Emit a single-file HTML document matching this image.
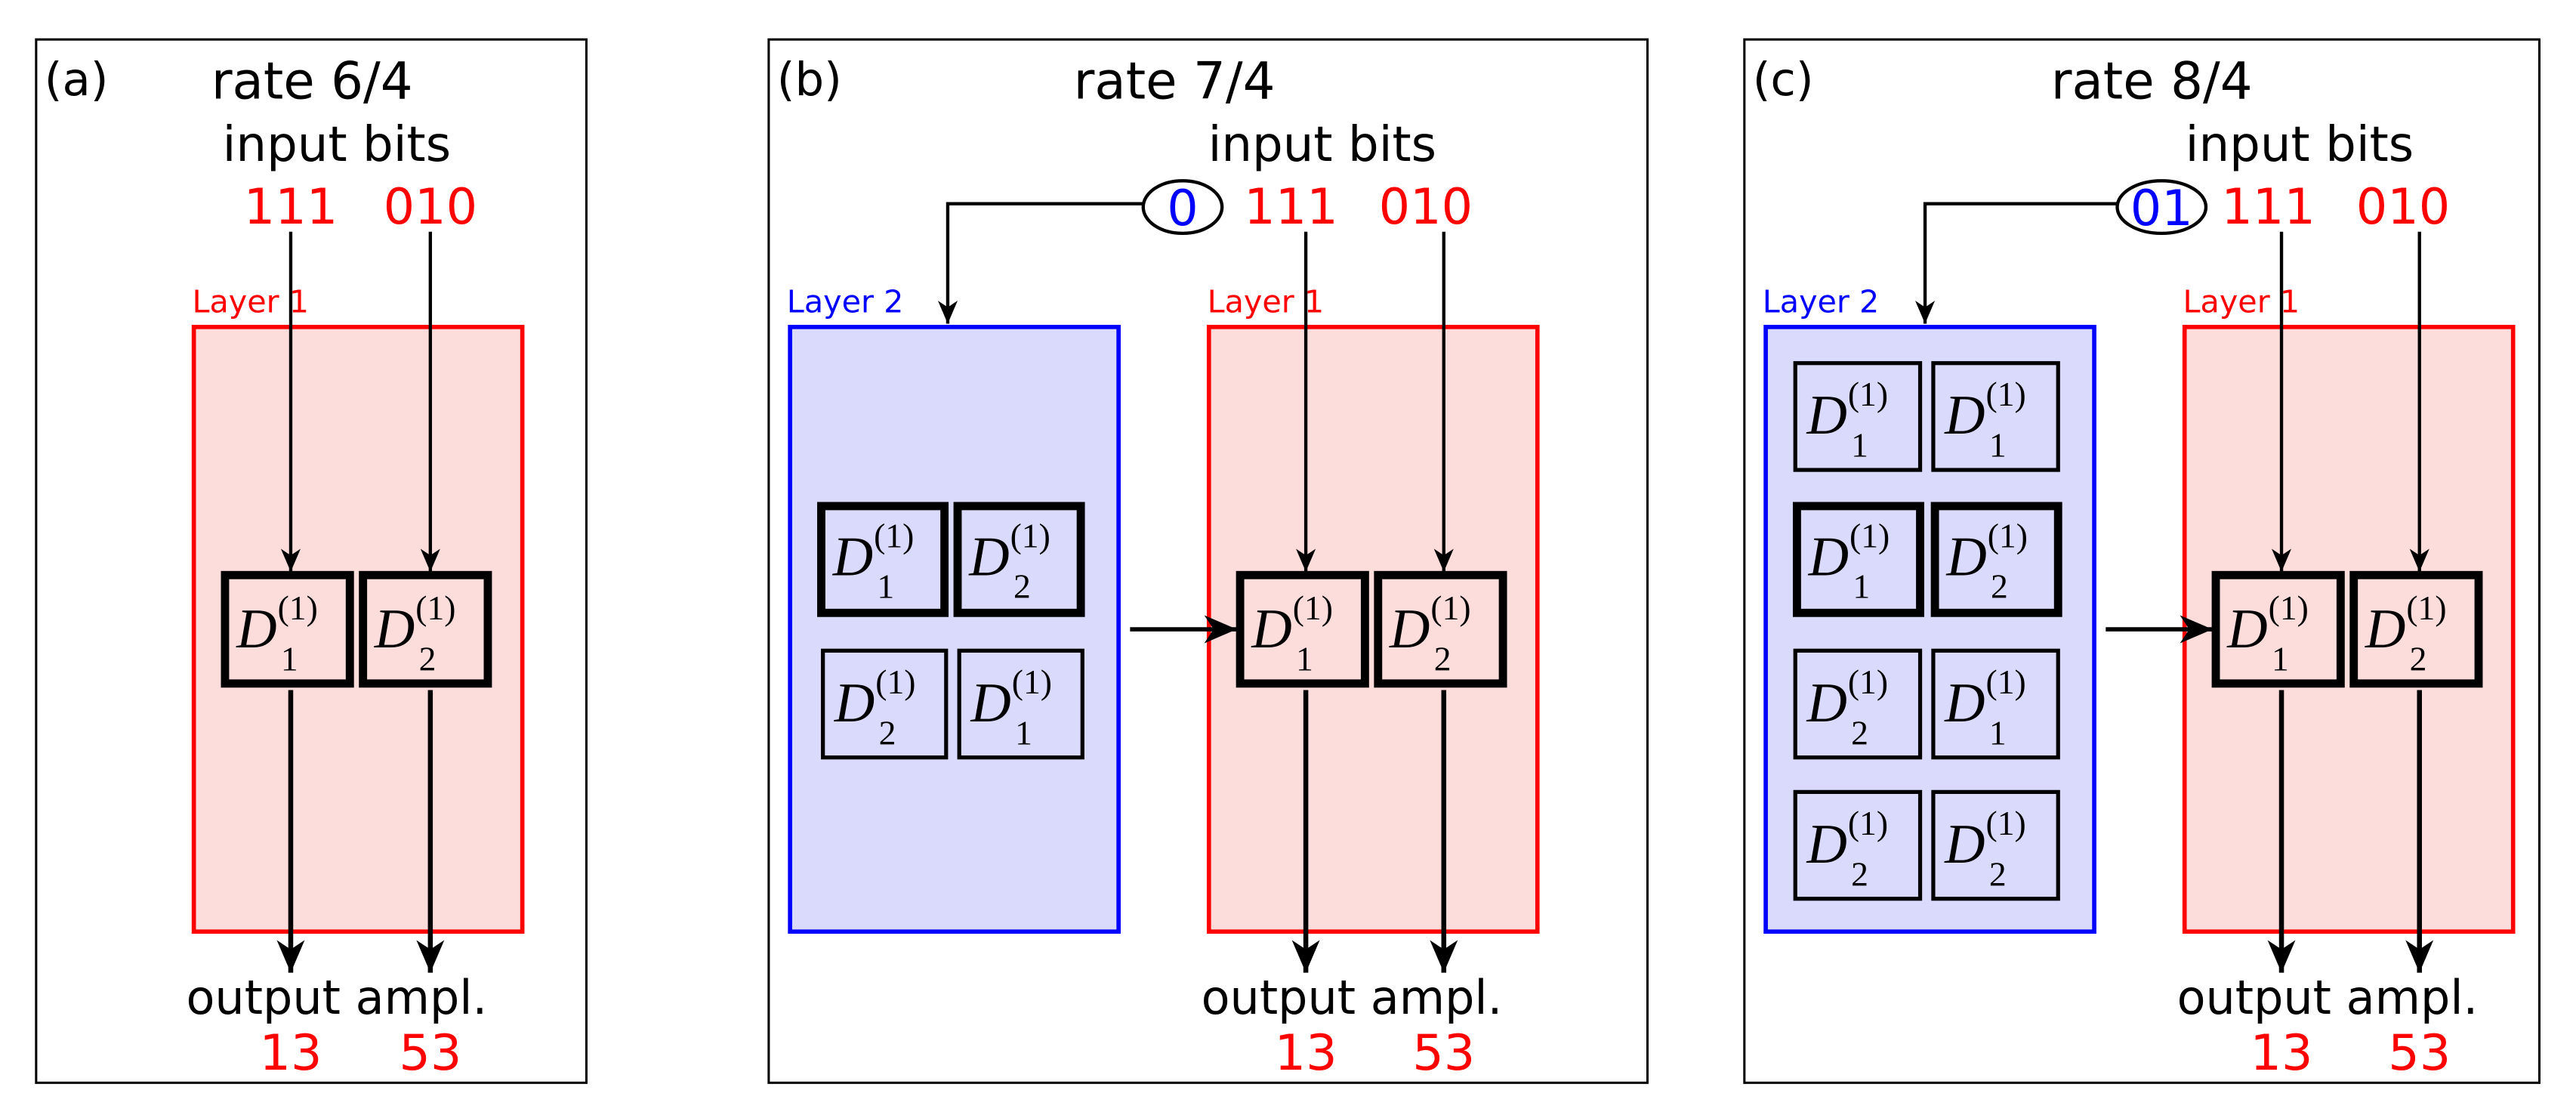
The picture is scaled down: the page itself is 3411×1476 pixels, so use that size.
<!DOCTYPE html>
<html><head><meta charset="utf-8"><style>
html,body{margin:0;padding:0;background:#fff}
svg{display:block}
text{font-family:"DejaVu Sans","Liberation Sans",sans-serif}
.m{font-family:"Liberation Serif","DejaVu Serif",serif;font-style:italic}
.s{font-family:"Liberation Serif","DejaVu Serif",serif}
</style></head><body>
<svg width="3411" height="1476" viewBox="0 0 1568.3 678.6" xmlns="http://www.w3.org/2000/svg">
<defs>
<marker id="a1" viewBox="0 0 14 12" refX="14" refY="6" markerWidth="14" markerHeight="12" markerUnits="userSpaceOnUse" orient="auto"><path d="M0,0 L14,6 L0,12 L4,6 z" fill="#000"/></marker>
<marker id="a2" viewBox="0 0 14 12" refX="14" refY="6" markerWidth="20" markerHeight="17" markerUnits="userSpaceOnUse" orient="auto"><path d="M0,0 L14,6 L0,12 L4,6 z" fill="#000"/></marker>
<g id="d1"><text class="m" x="7" y="44" font-size="34">D</text><text class="s" x="34" y="58" font-size="21">1</text><text class="s" x="32" y="27" font-size="21">(1)</text></g>
<g id="d2"><text class="m" x="7" y="44" font-size="34">D</text><text class="s" x="34" y="58" font-size="21">2</text><text class="s" x="32" y="27" font-size="21">(1)</text></g>
</defs>

<!-- Panel a -->
<rect x="22" y="24" width="335" height="635" fill="none" stroke="#000" stroke-width="1.4"/>
<text x="27" y="58" font-size="28">(a)</text>
<text x="190" y="60" font-size="31" text-anchor="middle">rate 6/4</text>
<text x="205" y="98" font-size="29.5" text-anchor="middle">input bits</text>
<text x="177" y="136" font-size="30" fill="#f00" text-anchor="middle">111</text>
<text x="262" y="136" font-size="30" fill="#f00" text-anchor="middle">010</text>
<text x="117" y="190" font-size="19" fill="#f00">Layer 1</text>
<rect x="118" y="199" width="200" height="368" fill="#fddcdc" stroke="#f00" stroke-width="2.6"/>
<line x1="177" y1="141" x2="177" y2="348" stroke="#000" stroke-width="2" marker-end="url(#a1)"/>
<line x1="262" y1="141" x2="262" y2="348" stroke="#000" stroke-width="2" marker-end="url(#a1)"/>
<rect x="137" y="350" width="76" height="66" fill="#fddcdc" stroke="#000" stroke-width="5"/>
<rect x="221" y="350" width="76" height="66" fill="#fddcdc" stroke="#000" stroke-width="5"/>
<use href="#d1" x="137" y="350"/><use href="#d2" x="221" y="350"/>
<line x1="177" y1="420" x2="177" y2="592" stroke="#000" stroke-width="3" marker-end="url(#a2)"/>
<line x1="262" y1="420" x2="262" y2="592" stroke="#000" stroke-width="3" marker-end="url(#a2)"/>
<text x="205" y="617" font-size="28.5" text-anchor="middle">output ampl.</text>
<text x="177" y="651" font-size="30" fill="#f00" text-anchor="middle">13</text>
<text x="262" y="651" font-size="30" fill="#f00" text-anchor="middle">53</text>

<!-- Panel b -->
<rect x="468" y="24" width="535" height="635" fill="none" stroke="#000" stroke-width="1.4"/>
<text x="473" y="58" font-size="28">(b)</text>
<text x="715" y="60" font-size="31" text-anchor="middle">rate 7/4</text>
<text x="805" y="98" font-size="29.5" text-anchor="middle">input bits</text>
<ellipse cx="720" cy="126" rx="24" ry="16" fill="none" stroke="#000" stroke-width="2"/>
<text x="720" y="137" font-size="30" fill="#00f" text-anchor="middle">0</text>
<text x="786" y="136" font-size="30" fill="#f00" text-anchor="middle">111</text>
<text x="868" y="136" font-size="30" fill="#f00" text-anchor="middle">010</text>
<polyline points="696,124 577,124 577,197" fill="none" stroke="#000" stroke-width="2" marker-end="url(#a1)"/>
<text x="479" y="190" font-size="19" fill="#00f">Layer 2</text>
<rect x="481" y="199" width="200" height="368" fill="#dadafd" stroke="#00f" stroke-width="2.6"/>
<text x="735" y="190" font-size="19" fill="#f00">Layer 1</text>
<rect x="736" y="199" width="200" height="368" fill="#fddcdc" stroke="#f00" stroke-width="2.6"/>
<rect x="500" y="308" width="75" height="65" fill="#dadafd" stroke="#000" stroke-width="5"/>
<rect x="583" y="308" width="75" height="65" fill="#dadafd" stroke="#000" stroke-width="5"/>
<use href="#d1" x="500" y="306"/><use href="#d2" x="583" y="306"/>
<rect x="501" y="396" width="75" height="65" fill="#dadafd" stroke="#000" stroke-width="2.4"/>
<rect x="584" y="396" width="75" height="65" fill="#dadafd" stroke="#000" stroke-width="2.4"/>
<use href="#d2" x="501" y="395"/><use href="#d1" x="584" y="395"/>
<line x1="688" y1="383" x2="753" y2="383" stroke="#000" stroke-width="2.6" marker-end="url(#a2)"/>
<line x1="795" y1="141" x2="795" y2="348" stroke="#000" stroke-width="2" marker-end="url(#a1)"/>
<line x1="879" y1="141" x2="879" y2="348" stroke="#000" stroke-width="2" marker-end="url(#a1)"/>
<rect x="755" y="350" width="76" height="66" fill="#fddcdc" stroke="#000" stroke-width="5"/>
<rect x="839" y="350" width="76" height="66" fill="#fddcdc" stroke="#000" stroke-width="5"/>
<use href="#d1" x="755" y="350"/><use href="#d2" x="839" y="350"/>
<line x1="795" y1="420" x2="795" y2="592" stroke="#000" stroke-width="3" marker-end="url(#a2)"/>
<line x1="879" y1="420" x2="879" y2="592" stroke="#000" stroke-width="3" marker-end="url(#a2)"/>
<text x="823" y="617" font-size="28.5" text-anchor="middle">output ampl.</text>
<text x="795" y="651" font-size="30" fill="#f00" text-anchor="middle">13</text>
<text x="879" y="651" font-size="30" fill="#f00" text-anchor="middle">53</text>

<!-- Panel c -->
<rect x="1062" y="24" width="484" height="635" fill="none" stroke="#000" stroke-width="1.4"/>
<text x="1067" y="58" font-size="28">(c)</text>
<text x="1310" y="60" font-size="31" text-anchor="middle">rate 8/4</text>
<text x="1400" y="98" font-size="29.5" text-anchor="middle">input bits</text>
<ellipse cx="1316" cy="126" rx="27" ry="16" fill="none" stroke="#000" stroke-width="2"/>
<text x="1316" y="137" font-size="30" fill="#00f" text-anchor="middle">01</text>
<text x="1381" y="136" font-size="30" fill="#f00" text-anchor="middle">111</text>
<text x="1463" y="136" font-size="30" fill="#f00" text-anchor="middle">010</text>
<polyline points="1289,124 1172,124 1172,197" fill="none" stroke="#000" stroke-width="2" marker-end="url(#a1)"/>
<text x="1073" y="190" font-size="19" fill="#00f">Layer 2</text>
<rect x="1075" y="199" width="200" height="368" fill="#dadafd" stroke="#00f" stroke-width="2.6"/>
<text x="1329" y="190" font-size="19" fill="#f00">Layer 1</text>
<rect x="1330" y="199" width="200" height="368" fill="#fddcdc" stroke="#f00" stroke-width="2.6"/>
<rect x="1093" y="221" width="76" height="65" fill="#dadafd" stroke="#000" stroke-width="2.4"/>
<rect x="1177" y="221" width="76" height="65" fill="#dadafd" stroke="#000" stroke-width="2.4"/>
<use href="#d1" x="1093" y="220"/><use href="#d1" x="1177" y="220"/>
<rect x="1094" y="308" width="75" height="65" fill="#dadafd" stroke="#000" stroke-width="5"/>
<rect x="1178" y="308" width="75" height="65" fill="#dadafd" stroke="#000" stroke-width="5"/>
<use href="#d1" x="1094" y="306"/><use href="#d2" x="1178" y="306"/>
<rect x="1093" y="396" width="76" height="65" fill="#dadafd" stroke="#000" stroke-width="2.4"/>
<rect x="1177" y="396" width="76" height="65" fill="#dadafd" stroke="#000" stroke-width="2.4"/>
<use href="#d2" x="1093" y="395"/><use href="#d1" x="1177" y="395"/>
<rect x="1093" y="482" width="76" height="65" fill="#dadafd" stroke="#000" stroke-width="2.4"/>
<rect x="1177" y="482" width="76" height="65" fill="#dadafd" stroke="#000" stroke-width="2.4"/>
<use href="#d2" x="1093" y="481"/><use href="#d2" x="1177" y="481"/>
<line x1="1282" y1="383" x2="1347" y2="383" stroke="#000" stroke-width="2.6" marker-end="url(#a2)"/>
<line x1="1389" y1="141" x2="1389" y2="348" stroke="#000" stroke-width="2" marker-end="url(#a1)"/>
<line x1="1473" y1="141" x2="1473" y2="348" stroke="#000" stroke-width="2" marker-end="url(#a1)"/>
<rect x="1349" y="350" width="76" height="66" fill="#fddcdc" stroke="#000" stroke-width="5"/>
<rect x="1433" y="350" width="76" height="66" fill="#fddcdc" stroke="#000" stroke-width="5"/>
<use href="#d1" x="1349" y="350"/><use href="#d2" x="1433" y="350"/>
<line x1="1389" y1="420" x2="1389" y2="592" stroke="#000" stroke-width="3" marker-end="url(#a2)"/>
<line x1="1473" y1="420" x2="1473" y2="592" stroke="#000" stroke-width="3" marker-end="url(#a2)"/>
<text x="1417" y="617" font-size="28.5" text-anchor="middle">output ampl.</text>
<text x="1389" y="651" font-size="30" fill="#f00" text-anchor="middle">13</text>
<text x="1473" y="651" font-size="30" fill="#f00" text-anchor="middle">53</text>
</svg>
</body></html>
